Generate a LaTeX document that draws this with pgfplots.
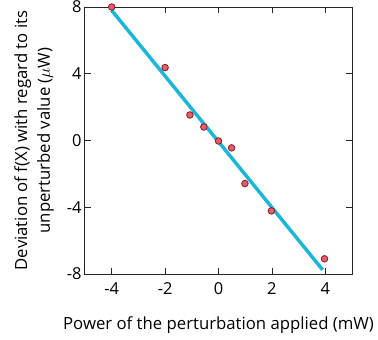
\documentclass[border=0pt]{standalone}
\usepackage{pgfplots}
\pgfplotsset{compat=1.18}
\usepackage{fontspec}
\setmainfont{Open Sans}
\definecolor{fitc}{RGB}{30,182,214}
\definecolor{mfill}{RGB}{225,95,105}
\definecolor{medge}{RGB}{140,25,40}
\begin{document}
\begin{tikzpicture}[x=1bp,y=1bp]
\path[use as bounding box] (-85,-66) rectangle (293,274);
\begin{axis}[
  at={(0,0)}, anchor=south west,
  scale only axis, width=267bp, height=267bp,
  xmin=-5, xmax=5, ymin=-8, ymax=8,
  xtick={-4,-2,0,2,4}, xticklabels={-4,-2,0,2,4},
  ytick={-8,-4,0,4,8}, yticklabels={-8,-4,0,4,8},
  tick align=inside, major tick length=6bp,
  tick style={black!85, line width=0.8bp},
  axis line style={black!85, line width=1bp},
  axis background/.style={draw=black!85, line width=1bp},
  ticklabel style={font=\fontsize{16.5}{18}\selectfont},
  xticklabel style={yshift=-5bp},
  xlabel={Power of the perturbation applied (mW)},
  ylabel={Deviation of f(X) with regard to its\\unperturbed value ($\mu$W)},
  label style={font=\fontsize{16.8}{23}\selectfont, align=center},
  xlabel style={yshift=-15bp},
  ylabel style={yshift=6bp},
  clip=false,
]
\addplot[fitc, line width=3.5bp] coordinates {(-4,7.8) (3.9,-7.75)};
\addplot[only marks, mark=*, mark size=3.3bp, mark options={fill=mfill, draw=medge, line width=0.8bp}] coordinates {
(-4,8.0) (-2,4.37) (-1.07,1.53) (-0.55,0.81) (0,-0.03) (0.49,-0.44) (0.99,-2.58) (1.98,-4.22) (3.97,-7.09)};
\end{axis}
\end{tikzpicture}
\end{document}
